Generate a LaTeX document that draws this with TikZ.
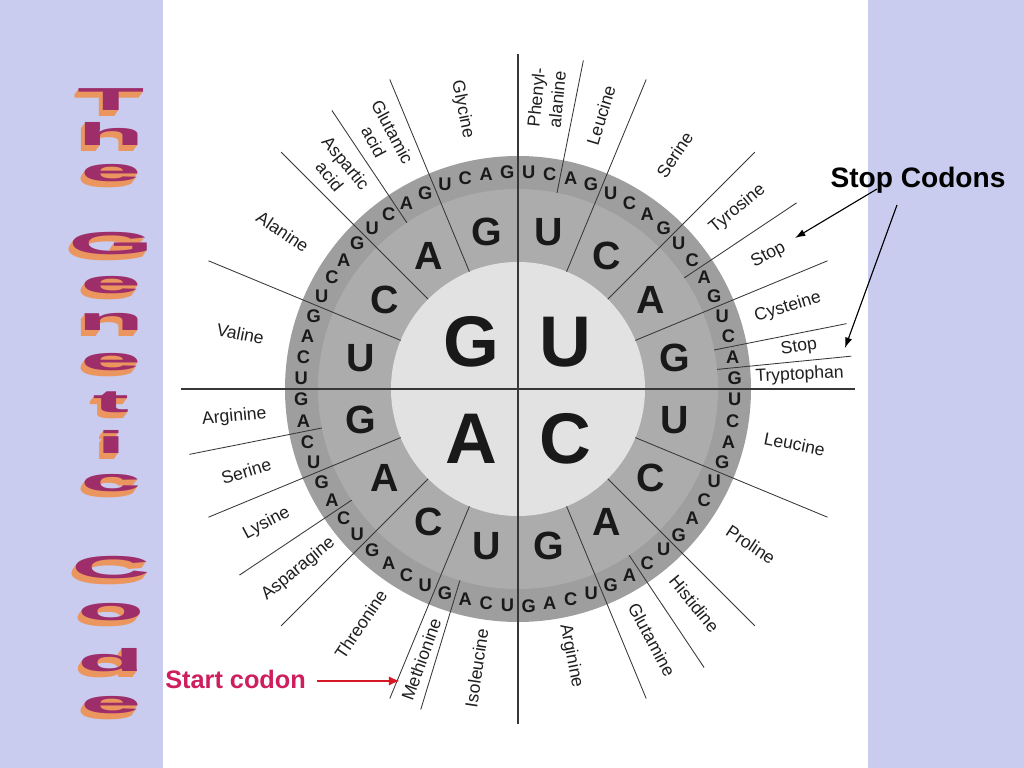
\documentclass[tikz,border=0pt]{standalone}
\usepackage{fontspec}
\setmainfont{Liberation Sans}
\usepackage{graphicx}
\usepackage{xcolor}
\usetikzlibrary{arrows.meta, positioning, calc}

\definecolor{lavender}{RGB}{201,204,238}
\definecolor{ringin}{RGB}{226,226,226}
\definecolor{ringmid}{RGB}{172,172,172}
\definecolor{ringout}{RGB}{158,158,158}
\definecolor{divline}{RGB}{55,55,55}
\definecolor{titleface}{RGB}{158,46,106}
\definecolor{titleside}{RGB}{234,150,94}
\definecolor{startpink}{RGB}{206,30,94}
\definecolor{arrowred}{RGB}{214,24,36}

\newcommand{\titlefont}{\fontsize{78}{78}\selectfont\bfseries}
\newcommand{\squash}[1]{\scalebox{1}[0.29]{#1}}

\begin{document}
\begin{tikzpicture}[
  x=0.025cm, y=0.025cm,
  first/.style={font=\fontsize{51}{51}\selectfont\bfseries, text=black!90, inner sep=0pt},
  second/.style={font=\fontsize{28}{28}\selectfont\bfseries, text=black!90, inner sep=0pt},
  third/.style={font=\fontsize{13}{13}\selectfont\bfseries, text=black!90, inner sep=0pt},
  amino/.style={font=\fontsize{12.5}{15}\selectfont, text=black!88, align=center, inner sep=0pt},
  axisline/.style={draw=divline, line width=0.9pt},
  divider/.style={draw=divline, line width=0.6pt},
  note/.style={font=\fontsize{20}{24}\selectfont\bfseries, inner sep=0pt},
  startlbl/.style={font=\fontsize{18}{20}\selectfont\bfseries, text=startpink, inner sep=0pt},
  ptr/.style={-{Latex[length=2.6mm, width=1.8mm]}, line width=0.8pt},
  redptr/.style={-{Latex[length=2.8mm, width=2.4mm]}, line width=1.6pt, draw=arrowred, color=arrowred},
  face/.style={font=\titlefont, text=titleface, inner sep=0pt},
  side/.style={font=\titlefont, text=titleside, inner sep=0pt}
]
\useasboundingbox (-518,-379) rectangle (506,389);
\fill[lavender] (-518,-379) rectangle (506,389);
\fill[white] (-355,-379) rectangle (350,389);

\fill[ringout] (0,0) circle (233);
\fill[ringmid] (0,0) circle (200);
\fill[ringin] (0,0) circle (127);

\draw[axisline] (90:335) -- (-90:335);
\draw[axisline] (180:337) -- (0:337);
\foreach \a in {67.5,45,22.5,-22.5,-45,-67.5,-112.5,-135,-157.5,157.5,135,112.5}
  \draw[divider] (\a:127) -- (\a:335);
\foreach \a in {78.75,33.75,11.25,5.625,-56.25,-106.875,-146.25,-168.75,123.75}
  \draw[divider] (\a:200) -- (\a:335);

\node[first] (f-G) at (-47,47) {G};
\node[first] (f-U) at (47,47) {U};
\node[first] (f-A) at (-47,-50) {A};
\node[first] (f-C) at (47,-50) {C};

\foreach \q/\qa in {U/90, C/0, A/-90, G/180} {
  \foreach \b [count=\i from 0] in {U,C,A,G} {
    \node[second] (s-\q\b) at ({\qa-22.5*\i-11.25}:160) {\b};
    \foreach \c [count=\j from 0] in {U,C,A,G}
      \node[third] (t-\q\b\c) at ({\qa-22.5*\i-5.625*\j-2.8125}:217) {\c};
  }
}

\foreach \name/\ang/\rad [count=\k] in {
  {Phenyl-\\alanine}/84.375/292, Leucine/73.125/286, Serine/56.25/282, Tyrosine/39.375/284,
  Stop/28.125/284, Cysteine/16.875/282, Stop/8.4375/284, Tryptophan/2.8125/282,
  Leucine/-11.25/282, Proline/-33.75/280, Histidine/-50.625/278, Glutamine/-61.875/284,
  Arginine/-78.75/272, Isoleucine/-98.4375/282, Methionine/-109.6875/287, Threonine/-123.75/283,
  Asparagine/-140.625/284, Lysine/-151.875/285, Serine/-163.125/284, Arginine/-174.375/285,
  Valine/168.75/283, Alanine/146.25/283, {Aspartic\\acid}/129.375/284,
  {Glutamic\\acid}/118.125/286, Glycine/101.25/285} {
  \pgfmathsetmacro{\rot}{cos(\ang)>0 ? \ang : \ang+180}
  \node[amino, rotate=\rot] (aa-\k) at (\ang:\rad) {\name};
}

\node[note, anchor=base] (stop-lbl) at (400,201) {Stop Codons};
\coordinate (stop-a) at (277,151);
\coordinate (stop-b) at (327,41);
\draw[ptr] ($(stop-lbl.base)+(-41,-1)$) -- (stop-a);
\draw[ptr] ($(stop-lbl.base)+(-21,-17)$) -- (stop-b);

\node[startlbl, anchor=base west] (start-lbl) at (-353,-299) {Start codon};
\coordinate (start-tip) at (-118,-294);
\draw[redptr] ($(start-lbl.east)+(11,-2)$) -- ($(start-lbl.east -| start-tip)+(0,-2)$);

\foreach \ch/\yy [count=\k] in {T/98, h/132, e/171, G/242, e/283, n/320, e/360,
                                t/400, i/440, c/481, C/566, o/610, d/658, e/703} {
  \foreach \d in {1,...,6}
    \node[side] (ts-\k-\d) at ({-407-0.7*\d}, {387-\yy-\d}) {\squash{\ch}};
  \node[face] (tf-\k) at (-407, 387-\yy) {\squash{\ch}};
}
\end{tikzpicture}
\end{document}
